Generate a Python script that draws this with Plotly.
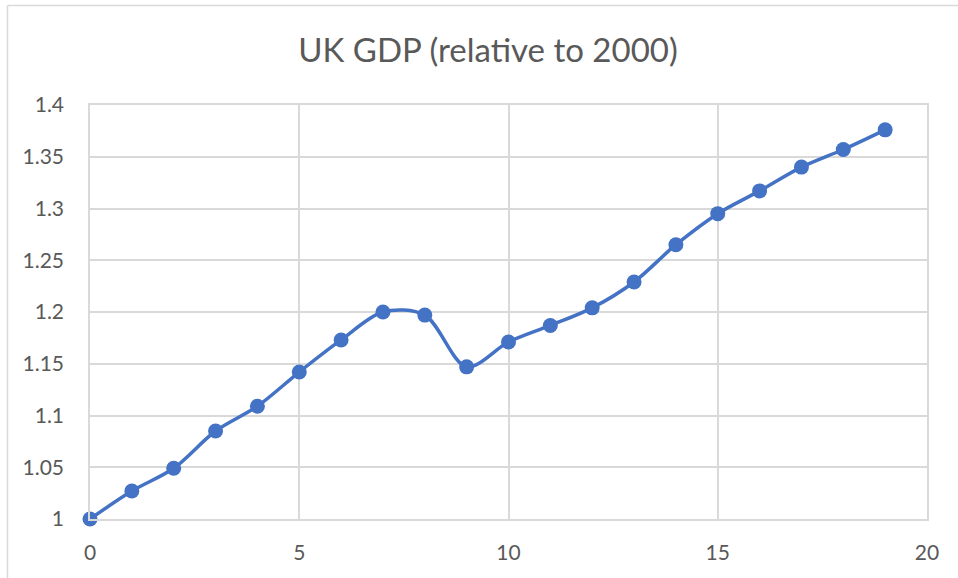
import plotly.graph_objects as go

years = list(range(20))
gdp = [1.000, 1.027, 1.049, 1.085, 1.109, 1.142, 1.173, 1.200, 1.197, 1.147,
       1.171, 1.187, 1.204, 1.229, 1.265, 1.295, 1.317, 1.340, 1.357, 1.376]

x_ticks = [0, 5, 10, 15, 20]
y_ticks = [1.0, 1.05, 1.1, 1.15, 1.2, 1.25, 1.3, 1.35, 1.4]
y_tick_labels = ["1", "1.05", "1.1", "1.15", "1.2", "1.25", "1.3", "1.35", "1.4"]

blue = "#4472C4"
grid = "#D9D9D9"
txt = "#595959"
font = "Lato"

W, H = 958, 578
L, R, T, B = 90, 31, 105, 59
pw, ph = W - L - R, H - T - B
bx = (7.5 - L) / pw          # chart-area left border, paper units
by = (H - B - 5.5) / ph      # chart-area top border, paper units

fig = go.Figure()
fig.add_trace(go.Scatter(
    x=years, y=gdp, mode="lines+markers",
    line=dict(color=blue, width=3.5, shape="spline", smoothing=0.9),
    marker=dict(color=blue, size=15),
    showlegend=False, cliponaxis=False,
))

fig.update_layout(
    width=W, height=H,
    margin=dict(l=L, r=R, t=T, b=B),
    paper_bgcolor="white", plot_bgcolor="white",
    font=dict(family=font, color=txt, size=20),
    title=dict(text="UK GDP (relative to 2000)", x=488/W, xanchor="center",
               xref="container", y=1-50/H, yanchor="middle", yref="container",
               font=dict(family=font, size=33, color=txt)),
    shapes=[
        dict(type="line", xref="paper", yref="paper", x0=bx, x1=bx, y0=-0.3, y1=by,
             line=dict(color=grid, width=1.5), layer="below"),
        dict(type="line", xref="paper", yref="paper", x0=bx, x1=1.1, y0=by, y1=by,
             line=dict(color=grid, width=1.5), layer="below"),
    ],
)
fig.update_xaxes(range=[0, 20], tickvals=x_ticks, showgrid=True, gridcolor=grid,
                 gridwidth=1.5, showline=True, linecolor=grid, linewidth=1.5, mirror=True,
                 zeroline=False, ticks="", ticklabelstandoff=14,
                 tickfont=dict(family=font, size=21, color=txt))
fig.update_yaxes(range=[1.0, 1.4], tickvals=y_ticks, ticktext=y_tick_labels,
                 showgrid=True, gridcolor=grid, gridwidth=1.5, showline=True,
                 linecolor=grid, linewidth=1.5, mirror=True, zeroline=False, ticks="",
                 ticklabelstandoff=20, tickfont=dict(family=font, size=21, color=txt))

fig.write_html("out.html", config={"displayModeBar": False},
               post_script="document.body.style.margin='0';document.body.style.overflow='hidden';document.documentElement.style.overflow='hidden';")
